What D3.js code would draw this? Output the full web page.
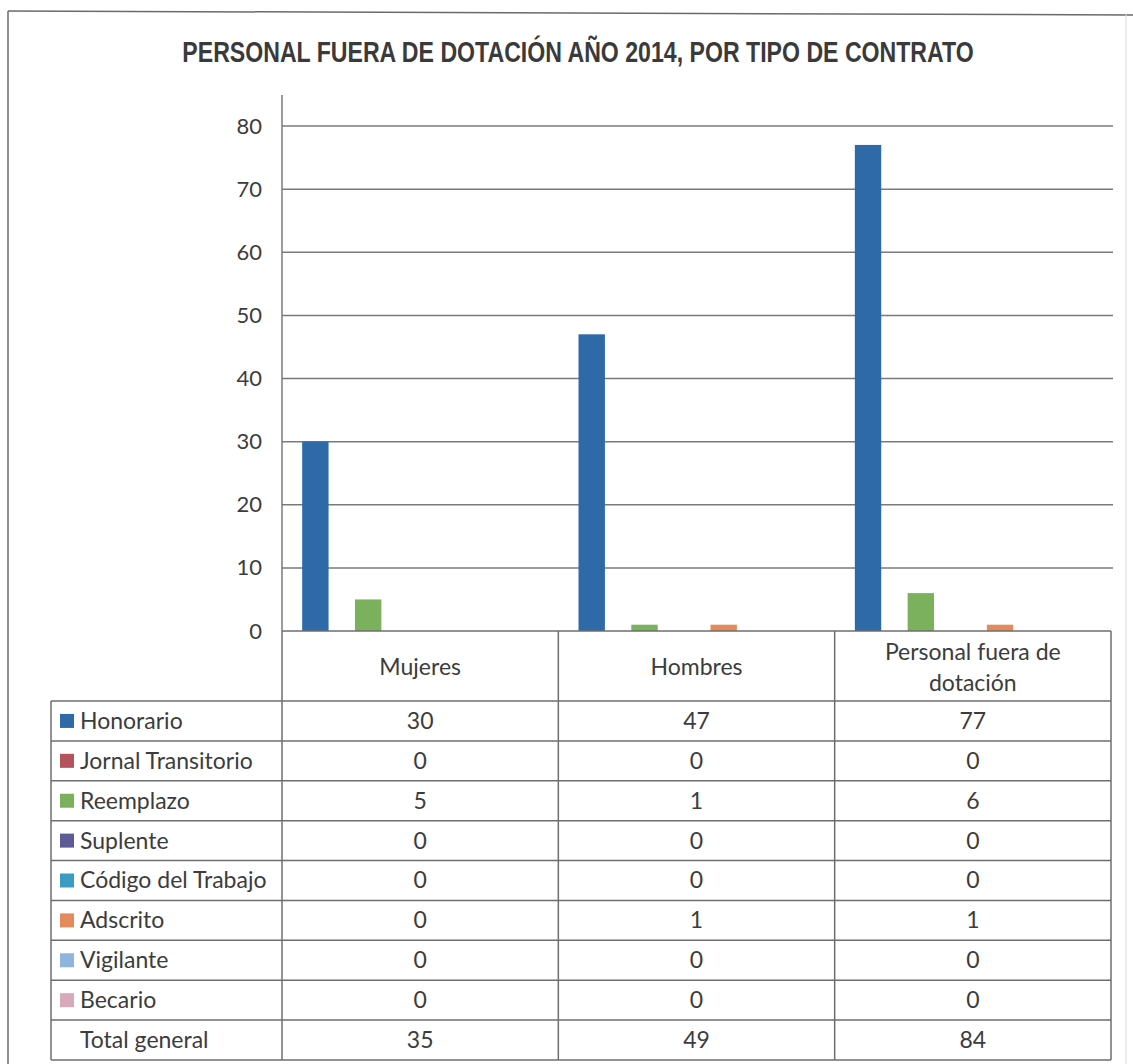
<!DOCTYPE html>
<html>
<head>
<meta charset="utf-8">
<script src="https://cdn.jsdelivr.net/npm/d3@7"></script>
<style>
  body { margin: 0; background: #fff; }
  svg text { font-family: Lato, "Open Sans", sans-serif; fill: #3c3c3c; }
</style>
</head>
<body>
<div id="chart"></div>
<script>
// data
var categories = ["Mujeres", "Hombres", "Personal fuera de dotación"];
var series = ["Honorario", "Jornal Transitorio", "Reemplazo", "Suplente", "Código del Trabajo", "Adscrito", "Vigilante", "Becario"];
var honorario = [30, 47, 77];
var jornal = [0, 0, 0];
var reemplazo = [5, 1, 6];
var suplente = [0, 0, 0];
var codigo = [0, 0, 0];
var adscrito = [0, 1, 1];
var vigilante = [0, 0, 0];
var becario = [0, 0, 0];
var totalGeneral = [35, 49, 84];
var yTicks = [0, 10, 20, 30, 40, 50, 60, 70, 80];
var colors = ["#2f6aa8", "#b4535b", "#7bb15c", "#5d5b96", "#3a9cc2", "#e38b5b", "#8fb5de", "#d8a9ba"];

var values = [honorario, jornal, reemplazo, suplente, codigo, adscrito, vigilante, becario];

var width = 1133, height = 1064;
var plotLeft = 282, plotRight = 1111, plotTop = 95, zeroY = 631;
var rowTop = 701, rowBottom = 1060, legendLeft = 51;
var fontSize = "23px";

var svg = d3.select("#chart").append("svg")
    .attr("width", width)
    .attr("height", height);

// outer frame of the scanned page
svg.append("line").attr("x1", 8).attr("y1", 11).attr("x2", 1133).attr("y2", 15)
    .attr("stroke", "#6a6a6a").attr("stroke-width", 1.5);
svg.append("line").attr("x1", 8).attr("y1", 11).attr("x2", 8).attr("y2", 1064)
    .attr("stroke", "#6a6a6a").attr("stroke-width", 1.5);
svg.append("line").attr("x1", 1126).attr("y1", 14).attr("x2", 1126).attr("y2", 1064)
    .attr("stroke", "#dcdcdc").attr("stroke-width", 1);

// title: condensed bold, squeezed horizontally to span about 792px like the scan
var title = svg.append("text")
    .attr("x", 0)
    .attr("y", 0)
    .attr("text-anchor", "middle")
    .style("font-family", "'Liberation Sans', Arial, sans-serif")
    .style("font-weight", "bold")
    .style("font-size", "30px")
    .style("fill", "#3a3a3a")
    .text("PERSONAL FUERA DE DOTACIÓN AÑO 2014, POR TIPO DE CONTRATO");
var tw = title.node().getComputedTextLength();
var sx = tw > 0 ? 792 / tw : 1;
title.attr("transform", "translate(578,62) scale(" + sx + ",1)");

var x0 = d3.scaleBand().domain(categories).range([plotLeft, plotRight]).paddingInner(0).paddingOuter(0);
var bw = x0.bandwidth();
var x1 = d3.scaleBand().domain(series).range([bw * 0.073, bw * 0.073 + 8 * 26.4]).padding(0);

var y = d3.scaleLinear().domain([0, 80]).range([zeroY, 126]);

// gridlines
svg.append("g")
    .selectAll("line")
    .data(yTicks.slice(1))
    .enter()
    .append("line")
    .attr("x1", plotLeft)
    .attr("x2", plotRight + 2)
    .attr("y1", function(d) { return y(d); })
    .attr("y2", function(d) { return y(d); })
    .attr("stroke", "#7a7a7a")
    .attr("stroke-width", 1.5);

// y axis
var yAxis = svg.append("g")
    .attr("transform", "translate(" + plotLeft + ",0)")
    .call(d3.axisLeft(y).tickValues(yTicks).tickSize(0).tickPadding(20));
yAxis.select(".domain").remove();
yAxis.selectAll("text")
    .style("font-size", "22px")
    .style("font-family", "Lato, 'Open Sans', sans-serif")
    .attr("fill", "#3c3c3c");
svg.append("line")
    .attr("x1", plotLeft).attr("x2", plotLeft)
    .attr("y1", plotTop).attr("y2", zeroY)
    .attr("stroke", "#7a7a7a").attr("stroke-width", 1.5);

// bars
var rows = [];
series.forEach(function(s, i) {
    categories.forEach(function(c, j) {
        rows.push({ serie: s, cat: c, value: values[i][j], color: colors[i] });
    });
});

svg.append("g")
    .selectAll("rect")
    .data(rows.filter(function(d) { return d.value > 0; }))
    .enter()
    .append("rect")
    .attr("x", function(d) { return x0(d.cat) + x1(d.serie); })
    .attr("y", function(d) { return y(d.value); })
    .attr("width", x1.bandwidth())
    .attr("height", function(d) { return zeroY - y(d.value); })
    .attr("fill", function(d) { return d.color; });

// data table
var rowLabels = series.concat(["Total general"]);
var rowY = d3.scaleBand().domain(rowLabels).range([rowTop, rowBottom]);
var tableValues = values.concat([totalGeneral]);

var grid = svg.append("g")
    .attr("stroke", "#6e6e6e")
    .attr("stroke-width", 1.5);

// horizontal lines
grid.append("line").attr("x1", plotLeft).attr("x2", plotRight).attr("y1", zeroY).attr("y2", zeroY);
rowLabels.forEach(function(r) {
    grid.append("line").attr("x1", legendLeft).attr("x2", plotRight)
        .attr("y1", rowY(r)).attr("y2", rowY(r));
});
grid.append("line").attr("x1", legendLeft).attr("x2", plotRight)
    .attr("y1", rowBottom).attr("y2", rowBottom);

// vertical lines
grid.append("line").attr("x1", legendLeft).attr("x2", legendLeft).attr("y1", rowTop).attr("y2", rowBottom);
categories.forEach(function(c) {
    grid.append("line").attr("x1", x0(c)).attr("x2", x0(c)).attr("y1", zeroY).attr("y2", rowBottom);
});
grid.append("line").attr("x1", plotRight).attr("x2", plotRight).attr("y1", zeroY).attr("y2", rowBottom);

// category headers
var header = svg.append("g");
categories.forEach(function(c) {
    var cx = x0(c) + bw / 2;
    if (c === "Personal fuera de dotación") {
        header.append("text").attr("x", cx).attr("y", 660).attr("text-anchor", "middle")
            .style("font-size", fontSize).text("Personal fuera de");
        header.append("text").attr("x", cx).attr("y", 691).attr("text-anchor", "middle")
            .style("font-size", fontSize).text("dotación");
    } else {
        header.append("text").attr("x", cx).attr("y", 675).attr("text-anchor", "middle")
            .style("font-size", fontSize).text(c);
    }
});

// legend column
var legendRows = svg.append("g")
    .selectAll("g")
    .data(rowLabels)
    .enter()
    .append("g")
    .attr("transform", function(d) { return "translate(0," + rowY(d) + ")"; });

legendRows.filter(function(d, i) { return i < series.length; })
    .append("rect")
    .attr("x", 60)
    .attr("y", rowY.bandwidth() / 2 - 7)
    .attr("width", 14)
    .attr("height", 14)
    .attr("fill", function(d, i) { return colors[i]; });

legendRows.append("text")
    .attr("x", 80)
    .attr("y", rowY.bandwidth() / 2 + 8)
    .style("font-size", fontSize)
    .text(function(d) { return d; });

// values in cells
legendRows.each(function(d, i) {
    var g = d3.select(this);
    categories.forEach(function(c, j) {
        g.append("text")
            .attr("x", x0(c) + bw / 2)
            .attr("y", rowY.bandwidth() / 2 + 8)
            .attr("text-anchor", "middle")
            .style("font-size", fontSize)
            .text(tableValues[i][j]);
    });
});
</script>
</body>
</html>
